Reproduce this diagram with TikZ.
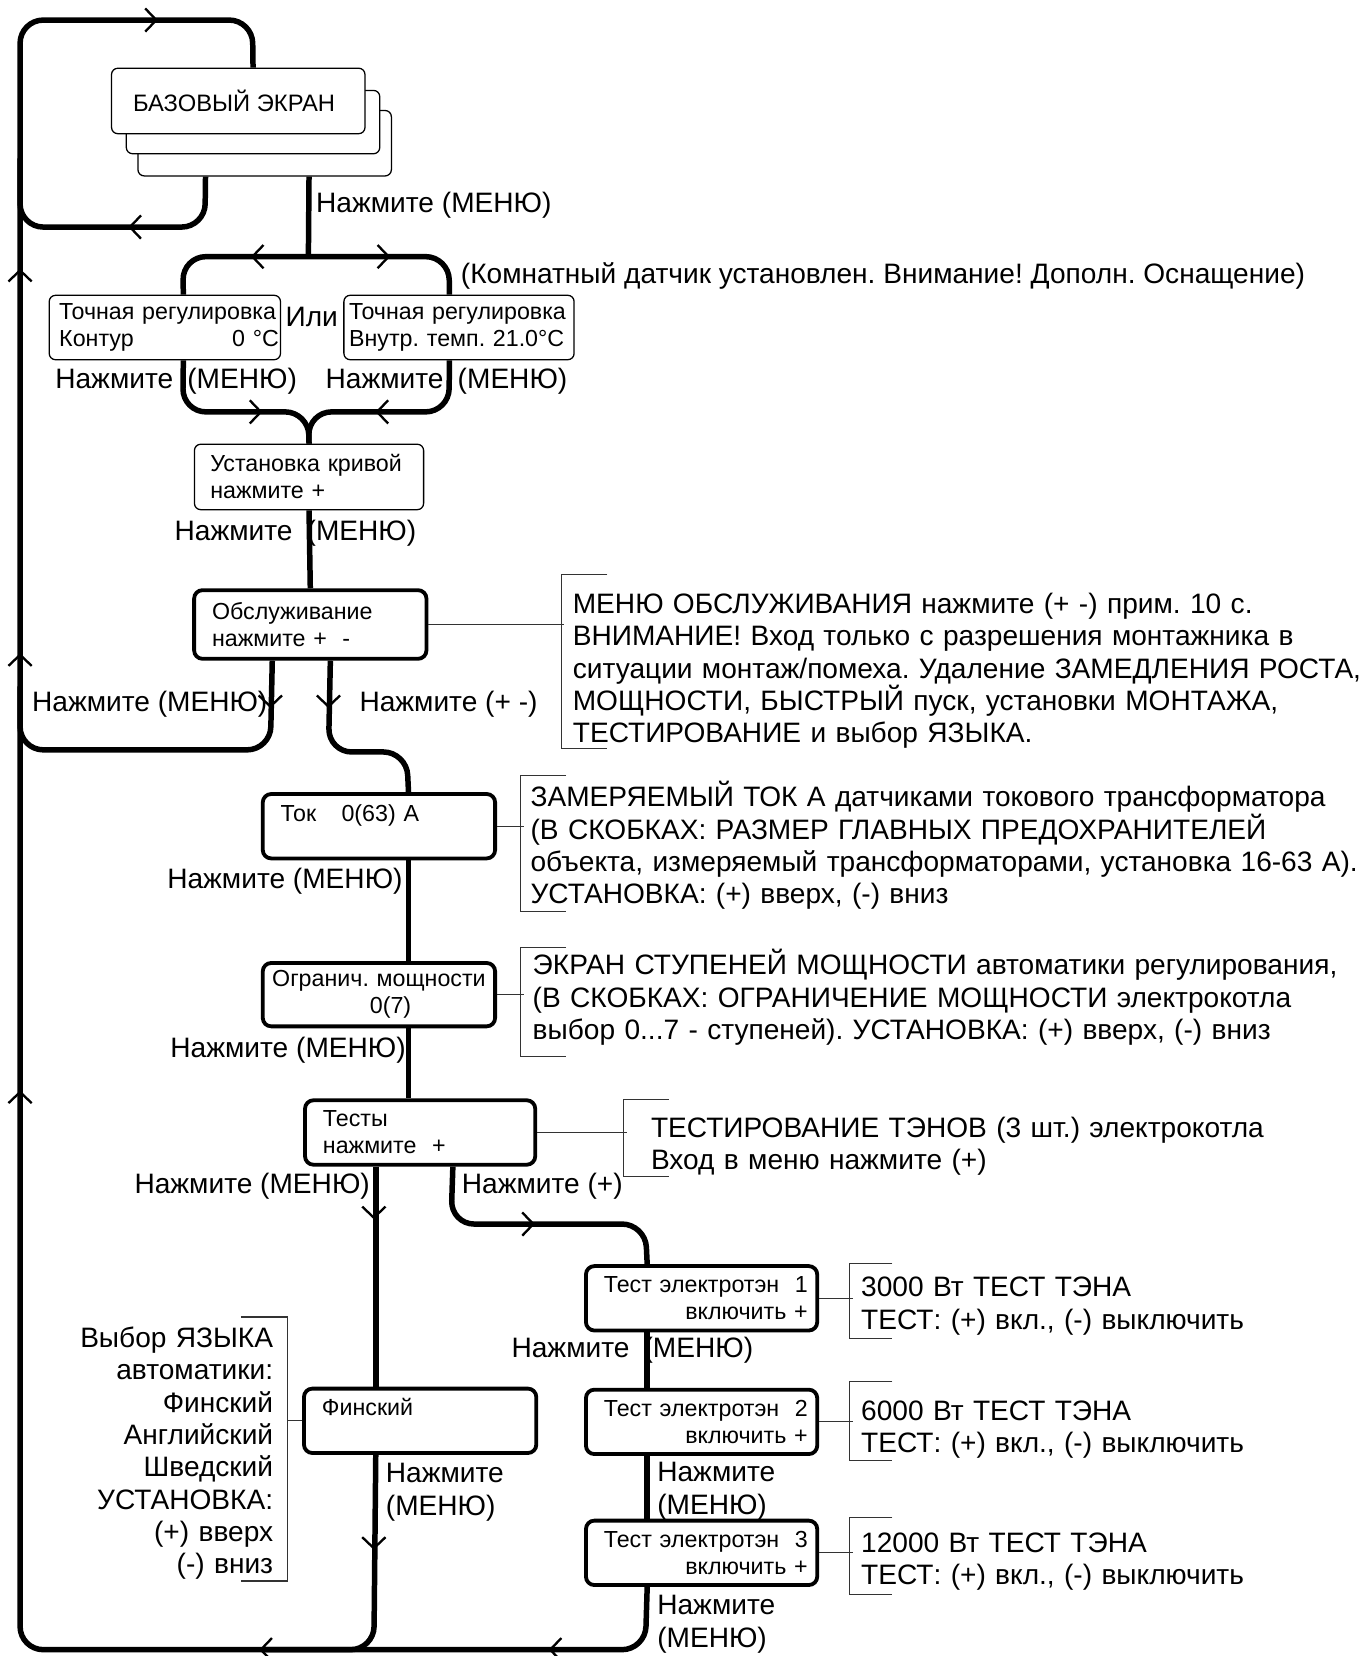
\documentclass[tikz,border=0pt]{standalone}
\usepackage{fontspec}
\setmainfont{Liberation Sans}
\usetikzlibrary{calc}
\pgfdeclarelayer{bg}
\pgfsetlayers{bg,main}
\frenchspacing
\newcommand\fmain{\fontsize{13.3pt}{15.3pt}\selectfont}
\newcommand\fboxtxt{\fontsize{11pt}{12.75pt}\selectfont}
\newcommand\fbasetxt{\fontsize{11.25pt}{13pt}\selectfont}
\begin{document}
\begin{tikzpicture}[x=0.5pt,y=-0.5pt,
  conn/.style={line width=2.6pt, rounded corners=11pt},
  thinbox/.style={draw, line width=0.6pt, rounded corners=3pt, fill=white, font=\fboxtxt, inner ysep=0pt, anchor=north west},
  thickbox/.style={draw, line width=1.8pt, rounded corners=4pt, fill=white, font=\fboxtxt, inner ysep=0pt, align=left, anchor=north west},
  brk/.style={line width=0.55pt, draw=black!80},
  lbl/.style={font=\fmain, inner sep=0pt, anchor=base west},
  blk/.style={font=\fmain, inner sep=0pt, anchor=base west, align=left, text width=420pt},
  pics/chev/.style={code={\draw[line width=1.1pt] (-10.5,-11) -- (0,0) -- (-10.5,11);}}
]
\begin{pgfonlayer}{bg}
\fill[white] (0,0) rectangle (1295,1568);
\end{pgfonlayer}
\useasboundingbox (0,0) rectangle (1295,1568);

% ---- boxes
\node[thinbox, minimum width=120pt, minimum height=31pt] (base3) at (130,104) {};
\node[thinbox, minimum width=120pt, minimum height=30pt] (base2) at (119,85) {};
\node[thinbox, minimum width=120pt, minimum height=31pt, font=\fbasetxt] (base1) at (105,64) {\hspace*{-4pt}БАЗОВЫЙ ЭКРАН};

\node[thinbox, align=left, minimum width=109.5pt, minimum height=30.5pt, text width=108pt, inner xsep=0.75pt] (tocn1) at (46,279) {\hspace*{4pt}Точная регулировка\\\hspace*{4pt}Контур\hfill 0 °C};
\node[thinbox, align=left, minimum width=109pt, minimum height=30.5pt, text width=104pt, inner xsep=2.5pt] (tocn2) at (325,279) {Точная регулировка\\Внутр.\ темп. 21.0°C};

\node[thinbox, align=left, minimum width=108.5pt, minimum height=31pt, text width=93.5pt, inner xsep=7.5pt] (ust) at (183.5,420) {Установка кривой\\нажмите +};

\node[thickbox, minimum width=110pt, minimum height=32.5pt, text width=93pt, inner xsep=8.5pt] (obs) at (182,557) {Обслуживание\\нажмите +\ \ -};
\node[thickbox, minimum width=110pt, minimum height=30.5pt, text width=93pt, inner xsep=8.5pt] (tok) at (247,750) {Ток\hspace{12pt}0(63) А\\\mbox{}};
\node[thickbox, align=center, minimum width=110pt, minimum height=30pt, text width=104pt, inner xsep=3pt] (ogr) at (247,910) {Огранич. мощности\\\hspace*{11pt}0(7)};
\node[thickbox, minimum width=109pt, minimum height=30.5pt, text width=92pt, inner xsep=8.5pt] (test) at (287,1040) {Тесты\\нажмите\ \ +};
\node[thickbox, minimum width=110pt, minimum height=30.5pt, text width=93pt, inner xsep=8.5pt] (fin) at (286,1313) {Финский\\\mbox{}};

\node[thickbox, minimum width=109.5pt, minimum height=30.5pt, text width=100.5pt, inner xsep=4.5pt] (t1) at (553,1197) {\hspace*{4pt}Тест электротэн\hfill 1\\\hspace*{\fill}включить +\hspace*{1.5pt}};
\node[thickbox, minimum width=109.5pt, minimum height=30.5pt, text width=100.5pt, inner xsep=4.5pt] (t2) at (553,1314) {\hspace*{4pt}Тест электротэн\hfill 2\\\hspace*{\fill}включить +\hspace*{1.5pt}};
\node[thickbox, minimum width=109.5pt, minimum height=30.5pt, text width=100.5pt, inner xsep=4.5pt] (t3) at (553,1438) {\hspace*{4pt}Тест электротэн\hfill 3\\\hspace*{\fill}включить +\hspace*{1.5pt}};

% ---- labels
\node[lbl] (n1) at (299,201) {Нажмите (МЕНЮ)};
\node[lbl] (room) at (436,268) {(Комнатный датчик установлен. Внимание! Дополн. Оснащение)};
\node[lbl] (ili) at (270,309) {Или};
\node[lbl] (n2) at (52,368) {Нажмите\hspace{3pt} (МЕНЮ)};
\node[lbl] (n3) at (308,368) {Нажмите\hspace{3pt} (МЕНЮ)};
\node[lbl] (n4) at (165,512) {Нажмите\hspace{3pt} (МЕНЮ)};
\node[lbl] (n5) at (30,674) {Нажмите (МЕНЮ)};
\node[lbl] (n6) at (340,674) {Нажмите (+ -)};
\node[lbl] (n7) at (158,841) {Нажмите (МЕНЮ)};
\node[lbl] (n8) at (161,1001) {Нажмите (МЕНЮ)};
\node[lbl] (n9) at (127,1130) {Нажмите (МЕНЮ)};
\node[lbl] (n10) at (437,1130) {Нажмите (+)};
\node[lbl] (n11) at (484,1285) {Нажмите\hspace{3pt} (МЕНЮ)};
\node[blk] (n12) at (622,1403) {Нажмите\\(МЕНЮ)};
\node[blk] (n13) at (622,1529) {Нажмите\\(МЕНЮ)};
\node[blk] (n14) at (365,1404) {Нажмите\\(МЕНЮ)};

\node[blk] (obstxt) at (542,581) {МЕНЮ ОБСЛУЖИВАНИЯ нажмите (+ -) прим. 10 с.\\ВНИМАНИЕ! Вход только с разрешения монтажника в\\ситуации монтаж/помеха. Удаление ЗАМЕДЛЕНИЯ РОСТА,\\МОЩНОСТИ, БЫСТРЫЙ пуск, установки МОНТАЖА,\\ТЕСТИРОВАНИЕ и выбор ЯЗЫКА.};
\node[blk] (toktxt) at (502,764) {ЗАМЕРЯЕМЫЙ ТОК А датчиками токового трансформатора\\(В СКОБКАХ: РАЗМЕР ГЛАВНЫХ ПРЕДОХРАНИТЕЛЕЙ\\объекта, измеряемый трансформаторами, установка 16-63 А).\\УСТАНОВКА: (+) вверх, (-) вниз};
\node[blk] (ogrtxt) at (504,923) {ЭКРАН СТУПЕНЕЙ МОЩНОСТИ автоматики регулирования,\\(В СКОБКАХ: ОГРАНИЧЕНИЕ МОЩНОСТИ электрокотла\\выбор 0...7 - ступеней). УСТАНОВКА: (+) вверх, (-) вниз};
\node[blk] (testtxt) at (616,1077) {ТЕСТИРОВАНИЕ ТЭНОВ (3 шт.) электрокотла\\Вход в меню нажмите (+)};
\node[blk] (t1txt) at (815,1228) {3000 Вт ТЕСТ ТЭНА\\ТЕСТ: (+) вкл., (-) выключить};
\node[blk] (t2txt) at (815,1345) {6000 Вт ТЕСТ ТЭНА\\ТЕСТ: (+) вкл., (-) выключить};
\node[blk] (t3txt) at (815,1470) {12000 Вт ТЕСТ ТЭНА\\ТЕСТ: (+) вкл., (-) выключить};
\node[font=\fmain, inner sep=0pt, anchor=base east, align=right, text width=120pt] (lang) at (259,1276) {Выбор ЯЗЫКА\\автоматики:\\Финский\\Английский\\Шведский\\УСТАНОВКА:\\(+) вверх\\(-) вниз};

% ---- brackets
\draw[brk] (obs.east) -- ++(128,0);
\draw[brk] (575,544) -- (532,544) -- (532,709) -- (575,709);
\draw[brk] (tok.east) -- ++(26,0);
\draw[brk] (536,734) -- (493,734) -- (493,863) -- (536,863);
\draw[brk] (ogr.east) -- ++(26,0);
\draw[brk] (536,897) -- (493,897) -- (493,1000) -- (536,1000);
\draw[brk] (test.east) -- ++(85,0);
\draw[brk] (633,1041) -- (590,1041) -- (590,1114) -- (633,1114);
\draw[brk] (t1.east) -- ++(32,0);
\draw[brk] (845,1196) -- (804,1196) -- (804,1267) -- (845,1267);
\draw[brk] (t2.east) -- ++(32,0);
\draw[brk] (845,1308) -- (804,1308) -- (804,1383) -- (845,1383);
\draw[brk] (t3.east) -- ++(32,0);
\draw[brk] (845,1437) -- (804,1437) -- (804,1510) -- (845,1510);
\draw[brk] (fin.west) -- ++(-14,0);
\draw[brk] (228,1247) -- (272,1247) -- (272,1497) -- (228,1497);

% ---- connectors
\begin{pgfonlayer}{bg}
\draw[conn] ([xshift=-25.75pt]t3.south) -- (611,1562) -- (19,1562) -- (19,19) -- (239,19) -- ([xshift=7pt]base1.north);
\draw[conn] ([xshift=-28pt]base3.south) -- (194,215) -- (19,215) -- (19,150);
\draw[conn] ([xshift=21pt]base3.south) -- (292,243);
\draw[conn] ([xshift=8.75pt]tocn1.north) -- (173,243) -- (425,243) -- ([xshift=-4.5pt]tocn2.north);
\draw[conn] ([xshift=8.75pt]tocn1.south) -- (173,390) -- (292,390) -- (ust.north);
\draw[conn] ([xshift=-4.5pt]tocn2.south) -- (425,390) -- (292,390) -- (ust.north);
\draw[conn] (ust.south) -- (obs.north);
\draw[conn] ([xshift=-18pt]obs.south) -- (256,710) -- (19,710) -- (19,650);
\draw[conn] ([xshift=9.5pt]obs.south) -- (311,712) -- (385,712) -- ([xshift=14pt]tok.north);
\draw[conn] ([xshift=14pt]tok.south) -- ([xshift=14pt]ogr.north);
\draw[conn] ([xshift=14pt]ogr.south) -- ([xshift=-5.5pt]test.north);
\draw[conn] ([xshift=-21pt]test.south) -- ([xshift=-21pt]fin.north);
\draw[conn] ([xshift=-21pt]fin.south) -- (354,1562) -- (250,1562);
\draw[conn] ([xshift=15.5pt]test.south) -- (427,1159) -- (611,1159) -- ([xshift=-25.75pt]t1.north);
\draw[conn] ([xshift=-25.75pt]t1.south) -- ([xshift=-25.75pt]t2.north);
\draw[conn] ([xshift=-25.75pt]t2.south) -- ([xshift=-25.75pt]t3.north);
\end{pgfonlayer}

% ---- arrow marks
\pic at (148,19) {chev};
\pic[rotate=180] at (123,215) {chev};
\pic[rotate=90] at (19,256) {chev};
\pic[rotate=90] at (19,620) {chev};
\pic[rotate=90] at (19,1034) {chev};
\pic[rotate=180] at (239,243) {chev};
\pic at (368,243) {chev};
\pic at (247,390) {chev};
\pic[rotate=180] at (357,390) {chev};
\pic[rotate=-90] at (256,669) {chev};
\pic[rotate=-90] at (311,669) {chev};
\pic at (505,1159) {chev};
\pic[rotate=-90] at (354,1153) {chev};
\pic[rotate=-90] at (354,1466) {chev};
\pic[rotate=180] at (247,1562) {chev};
\pic[rotate=180] at (521,1562) {chev};
\end{tikzpicture}
\end{document}
